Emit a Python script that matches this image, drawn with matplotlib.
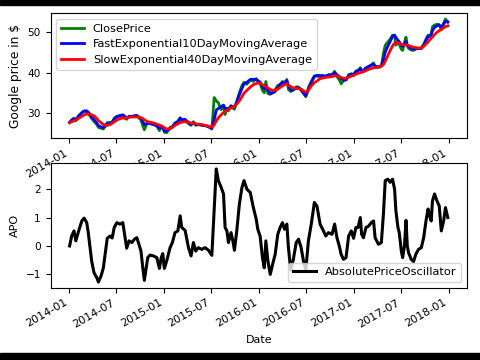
import matplotlib
matplotlib.use("Agg")
import matplotlib.pyplot as plt
import matplotlib.dates as mdates
from matplotlib.patches import Rectangle
import numpy as np
import pandas as pd

dates = [
    "2014-01-02", "2014-01-10", "2014-01-19", "2014-01-26", "2014-02-05", "2014-02-18", "2014-02-27", "2014-03-09",
    "2014-03-15", "2014-03-22", "2014-03-28", "2014-04-06", "2014-04-17", "2014-04-23", "2014-05-03", "2014-05-12",
    "2014-05-19", "2014-05-27", "2014-06-07", "2014-06-15", "2014-06-23", "2014-07-03", "2014-07-15", "2014-07-26",
    "2014-08-04", "2014-08-10", "2014-08-19", "2014-08-30", "2014-09-09", "2014-09-18", "2014-09-24", "2014-10-04",
    "2014-10-11", "2014-10-17", "2014-10-24", "2014-10-30", "2014-11-08", "2014-11-21", "2014-12-04", "2014-12-14",
    "2014-12-21", "2014-12-27", "2015-01-02", "2015-01-11", "2015-01-24", "2015-02-02", "2015-02-12", "2015-02-23",
    "2015-03-04", "2015-03-10", "2015-03-23", "2015-04-05", "2015-04-15", "2015-04-24", "2015-05-03", "2015-05-13",
    "2015-05-26", "2015-06-08", "2015-06-21", "2015-07-04", "2015-07-13", "2015-07-21", "2015-07-29", "2015-08-09",
    "2015-08-18", "2015-08-24", "2015-08-31", "2015-09-06", "2015-09-16", "2015-09-23", "2015-09-29", "2015-10-08",
    "2015-10-18", "2015-10-28", "2015-11-05", "2015-11-16", "2015-11-29", "2015-12-11", "2015-12-22", "2015-12-28",
    "2016-01-06", "2016-01-15", "2016-01-22", "2016-01-28", "2016-02-05", "2016-02-14", "2016-02-23", "2016-03-04",
    "2016-03-14", "2016-03-23", "2016-04-01", "2016-04-09", "2016-04-18", "2016-04-24", "2016-05-03", "2016-05-13",
    "2016-05-24", "2016-06-02", "2016-06-12", "2016-06-21", "2016-06-30", "2016-07-10", "2016-07-21", "2016-08-02",
    "2016-08-12", "2016-08-24", "2016-09-06", "2016-09-15", "2016-09-25", "2016-10-09", "2016-10-19", "2016-10-28",
    "2016-11-06", "2016-11-13", "2016-11-22", "2016-12-02", "2016-12-12", "2016-12-22", "2016-12-31", "2017-01-09",
    "2017-01-17", "2017-01-26", "2017-01-31", "2017-02-07", "2017-02-17", "2017-02-27", "2017-03-09", "2017-03-18",
    "2017-03-24", "2017-04-06", "2017-04-17", "2017-04-25", "2017-05-02", "2017-05-12", "2017-05-21", "2017-05-30",
    "2017-06-07", "2017-06-12", "2017-06-20", "2017-06-25", "2017-07-03", "2017-07-08", "2017-07-15", "2017-07-21",
    "2017-07-26", "2017-07-31", "2017-08-10", "2017-08-19", "2017-08-28", "2017-09-07", "2017-09-18", "2017-09-27",
    "2017-10-06", "2017-10-14", "2017-10-20", "2017-10-26", "2017-10-31", "2017-11-08", "2017-11-17", "2017-11-26",
    "2017-12-04", "2017-12-13", "2017-12-20", "2017-12-29",
]

close_price = [
    27.6, 28.3, 28.7, 28.0, 29.3, 30.1, 30.4, 30.3, 29.8, 29.2, 28.6, 27.9, 27.1, 26.4, 26.2, 26.0,
    26.9, 27.6, 27.6, 27.7, 28.7, 29.2, 29.2, 29.4, 28.6, 28.4, 29.2, 29.0, 29.3, 29.4, 28.9, 28.2,
    26.8, 25.8, 27.0, 27.6, 27.3, 27.1, 26.8, 25.6, 26.5, 26.6, 25.2, 25.1, 26.4, 26.6, 27.5, 27.9,
    28.8, 28.0, 28.3, 27.3, 26.9, 27.8, 26.9, 27.1, 26.9, 26.9, 26.6, 26.0, 33.8, 33.0, 32.5, 30.8,
    31.8, 29.6, 31.0, 30.5, 31.8, 31.2, 30.9, 32.8, 35.0, 36.8, 37.6, 37.1, 38.2, 37.8, 38.5, 38.0,
    37.2, 35.6, 35.0, 37.8, 34.8, 34.6, 35.2, 35.8, 36.8, 37.1, 37.8, 37.4, 38.3, 35.8, 35.3, 35.7,
    36.5, 36.4, 35.6, 34.8, 34.0, 36.3, 37.8, 39.2, 39.1, 39.0, 39.2, 38.9, 39.5, 39.5, 40.3, 39.0,
    38.2, 37.2, 38.0, 38.2, 39.5, 39.7, 39.3, 40.4, 40.5, 41.2, 40.3, 40.5, 41.2, 41.5, 41.9, 42.4,
    41.2, 41.3, 41.5, 44.8, 46.8, 47.6, 48.3, 49.3, 49.0, 46.8, 47.5, 47.0, 45.8, 45.5, 47.5, 48.8,
    46.6, 46.0, 45.6, 45.5, 45.9, 46.0, 46.2, 47.0, 48.3, 49.3, 49.0, 49.6, 51.4, 51.8, 52.0, 51.9,
    50.6, 52.3, 53.3, 52.5,
]

slow_ema = [
    27.6, 27.8, 28.0, 28.2, 28.6, 29.1, 29.5, 29.7, 29.7, 29.7, 29.5, 29.3, 28.6, 28.1, 27.6, 27.1,
    26.9, 26.9, 27.1, 27.4, 27.8, 28.2, 28.6, 28.7, 28.8, 28.8, 28.9, 29.0, 29.0, 29.0, 29.0, 28.8,
    28.6, 28.3, 28.0, 27.8, 27.7, 27.5, 27.2, 27.0, 26.8, 26.6, 26.3, 26.0, 26.1, 26.4, 26.9, 27.3,
    27.6, 27.7, 27.8, 27.7, 27.5, 27.4, 27.3, 27.2, 27.1, 26.9, 26.7, 26.5, 27.0, 28.0, 28.8, 29.5,
    30.1, 30.4, 30.6, 30.9, 31.2, 31.4, 31.6, 32.2, 33.0, 34.0, 34.9, 35.6, 36.4, 37.0, 37.3, 37.4,
    37.3, 37.0, 36.7, 36.6, 36.2, 35.8, 35.6, 35.6, 35.9, 36.3, 36.7, 37.0, 37.2, 36.9, 36.5, 36.2,
    36.0, 36.0, 35.9, 35.5, 35.1, 35.6, 36.7, 37.5, 37.9, 38.5, 38.7, 38.8, 38.9, 39.0, 39.2, 39.2,
    39.0, 38.8, 38.6, 38.6, 38.8, 39.1, 39.3, 39.6, 39.8, 40.0, 40.1, 40.2, 40.5, 40.8, 41.0, 41.2,
    41.3, 41.4, 41.6, 42.0, 42.8, 44.2, 45.5, 46.6, 47.3, 47.5, 47.4, 47.2, 47.0, 46.9, 46.9, 46.9,
    46.8, 46.7, 46.5, 46.3, 46.2, 46.1, 46.0, 46.5, 47.1, 47.6, 48.1, 48.5, 48.8, 49.4, 50.0, 50.4,
    50.7, 51.1, 51.4, 51.6,
]

apo = [
    0.00, 0.35, 0.53, 0.18, 0.50, 0.88, 0.98, 0.82, 0.47, -0.06, -0.53, -0.94, -1.12, -1.27, -1.06, -0.77,
    -0.29, 0.27, 0.35, 0.28, 0.65, 0.82, 0.77, 0.82, 0.29, -0.08, 0.18, 0.12, 0.24, 0.29, 0.12, -0.18,
    -0.77, -1.21, -0.77, -0.41, -0.32, -0.35, -0.41, -0.79, -0.41, -0.27, -0.79, -0.53, -0.06, 0.12, 0.47, 0.53,
    1.06, 0.65, 0.55, -0.06, -0.35, 0.12, -0.18, -0.06, -0.12, -0.06, -0.15, -0.33, 1.24, 2.71, 2.30, 2.06,
    1.83, 0.65, 0.53, 0.12, 0.47, 0.18, -0.15, 0.53, 1.47, 2.06, 2.30, 2.00, 1.88, 1.35, 0.94, 0.59,
    0.35, -0.41, -0.77, 0.18, -0.53, -1.00, -0.65, -0.29, 0.41, 0.65, 0.82, 0.59, 0.77, -0.06, -0.85, -0.47,
    0.12, 0.24, -0.06, -0.53, -0.85, 0.18, 0.77, 1.53, 1.40, 0.77, 0.53, 0.35, 0.47, 0.41, 0.77, 0.29,
    0.00, -0.29, -0.47, -0.41, 0.35, 0.53, 0.27, 0.65, 0.65, 1.00, 0.41, 0.29, 0.65, 0.70, 0.82, 0.88,
    0.29, 0.06, 0.12, 1.12, 2.30, 2.35, 2.24, 2.35, 2.00, 1.24, 0.65, 0.47, -0.18, -0.41, 0.00, 0.90,
    0.00, -0.24, -0.47, -0.55, -0.29, -0.12, -0.06, 0.29, 0.88, 1.30, 1.06, 0.88, 1.59, 1.83, 1.59, 1.41,
    0.53, 0.88, 1.35, 1.00,
]

d = pd.to_datetime(dates)
close = np.array(close_price)
slow = np.array(slow_ema)
apo_arr = np.array(apo)
fast = slow + apo_arr

TICK_FS = 7.6
XTICK_FS = 8.0
LEG_FS = 8.2
LAB_FS = 8.0

fig = plt.figure(figsize=(4.8, 3.6), dpi=100)
ax1 = fig.add_axes([0.1056, 0.6158, 0.8667, 0.3472])
ax2 = fig.add_axes([0.1056, 0.2008, 0.8667, 0.3456])

ax1.plot(d, close, color='g', lw=2, label='ClosePrice')
ax1.plot(d, fast, color='b', lw=2, label='FastExponential10DayMovingAverage')
ax1.plot(d, slow, color='r', lw=2, label='SlowExponential40DayMovingAverage')
ax1.set_ylabel('Google price in $', fontsize=LAB_FS + 0.8)
ax1.legend(loc='upper left', fontsize=LEG_FS)

ax2.plot(d, apo_arr, color='k', lw=2.2, label='AbsolutePriceOscillator')
ax2.set_ylabel('APO', fontsize=LAB_FS)
ax2.set_xlabel('Date', fontsize=LAB_FS)
ax2.legend(loc='lower right', fontsize=LEG_FS)

for ax in (ax1, ax2):
    ax.xaxis.set_major_locator(mdates.MonthLocator(bymonth=(1, 7)))
    ax.xaxis.set_major_formatter(mdates.DateFormatter('%Y-%m'))
    ax.tick_params(axis='y', labelsize=TICK_FS)
    ax.tick_params(axis='x', labelsize=XTICK_FS)
    for lab in ax.get_xticklabels():
        lab.set_rotation(30)
        lab.set_ha('right')

ax1.set_yticks([30, 40, 50])
ax2.set_yticks([-1, 0, 1, 2])

fig.add_artist(Rectangle((0, 1 - 5 / 360), 1, 5 / 360, transform=fig.transFigure, color='black', zorder=10))
fig.add_artist(Rectangle((0, 0), 1, 7 / 360, transform=fig.transFigure, color='black', zorder=10))

fig.savefig('out.png', dpi=100)
